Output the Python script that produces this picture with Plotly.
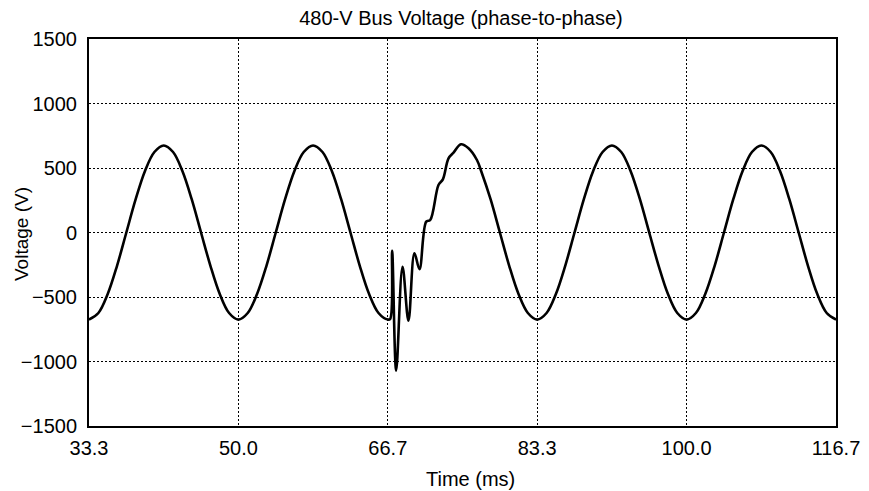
import plotly.graph_objects as go

# Time samples (ms) and phase-to-phase voltage (V)
time_pre = [33.33, 34.38, 35.42, 36.46, 37.50, 38.54, 39.58, 40.63, 41.67, 42.71, 43.75,
            44.79, 45.83, 46.88, 47.92, 48.96, 50.00, 51.04, 52.08, 53.13, 54.17, 55.21,
            56.25, 57.29, 58.33, 59.38, 60.42, 61.46, 62.50, 63.54, 64.58, 65.63, 66.67, 66.93]
volt_pre = [-675, -624, -477, -258, 0, 258, 477, 624, 675, 624, 477,
            258, 0, -258, -477, -624, -675, -624, -477, -258, 0, 258,
            477, 624, 675, 624, 477, 258, 0, -258, -477, -624, -675, -670]

time_fault = [67.15, 67.60, 68.31, 68.97, 69.64, 70.20, 70.95, 71.40, 72.32, 72.81,
              73.44, 74.00, 74.82, 75.67, 76.61]
volt_fault = [-141, -1071, -265, -684, -161, -285, 84, 97, 368, 412,
              575, 619, 684, 653, 562]

time_post = [77.08, 78.13, 79.17, 80.21, 81.25, 82.29, 83.33, 84.38, 85.42, 86.46, 87.50,
             88.54, 89.58, 90.63, 91.67, 92.71, 93.75, 94.79, 95.83, 96.88, 97.92, 98.96,
             100.00, 101.04, 102.08, 103.13, 104.17, 105.21, 106.25, 107.29, 108.33, 109.38,
             110.42, 111.46, 112.50, 113.54, 114.58, 115.63, 116.67]
volt_post = [477, 258, 0, -258, -477, -624, -675, -624, -477, -258, 0,
             258, 477, 624, 675, 624, 477, 258, 0, -258, -477, -624,
             -675, -624, -477, -258, 0, 258, 477, 624, 675, 624,
             477, 258, 0, -258, -477, -624, -675]

x_tickvals = [33.333, 50.0, 66.667, 83.333, 100.0, 116.667]
x_ticktext = ["33.3", "50.0", "66.7", "83.3", "100.0", "116.7"]
y_tickvals = [-1500, -1000, -500, 0, 500, 1000, 1500]
y_ticktext = ["\u22121500", "\u22121000", "\u2212500", "0", "500", "1000", "1500"]

t = time_pre + time_fault + time_post
v = volt_pre + volt_fault + volt_post

fig = go.Figure()
fig.add_trace(go.Scatter(x=t, y=v, mode="lines",
                         line=dict(color="black", width=2.6, shape="spline", smoothing=1.0),
                         showlegend=False))

font = "Liberation Sans, Arial, Helvetica, sans-serif"
FS = 20
W, H = 861, 483
L, R, T, B = 81, 33, 31, 65
PW, PH = W - L - R, H - T - B
fig.update_layout(
    width=W, height=H,
    margin=dict(l=L, r=R, t=T, b=B),
    paper_bgcolor="white", plot_bgcolor="white",
    font=dict(family=font, size=FS, color="black"),
    title=dict(text="480-V Bus Voltage (phase-to-phase)", x=(461 - 8) / W, xanchor="center",
               xref="container", yref="container",
               y=1 - 10 / H, yanchor="middle", font=dict(size=FS)),
)
fig.add_annotation(text="Time (ms)", xref="paper", yref="paper",
                   x=(470 - 8 - L) / PW, y=-(479 - 8 - (T + PH)) / PH,
                   xanchor="center", yanchor="middle", showarrow=False,
                   font=dict(size=FS))
fig.add_annotation(text="Voltage (V)", xref="paper", yref="paper",
                   x=(21 - 8 - L) / PW, y=((T + PH) - (234 - 8)) / PH,
                   xanchor="center", yanchor="middle", showarrow=False, textangle=-90,
                   font=dict(size=19))
grid = dict(showgrid=True, gridcolor="black", gridwidth=1.2, griddash="2px,2px",
            showline=True, linecolor="black", linewidth=2, mirror=True,
            zeroline=False, ticks="", ticklen=0, tickfont=dict(size=FS), automargin=False)
fig.update_xaxes(range=[33.333, 116.667], tickvals=x_tickvals, ticktext=x_ticktext,
                 ticklabelstandoff=3, **grid)
fig.update_yaxes(range=[-1500, 1500], tickvals=y_tickvals, ticktext=y_ticktext,
                 ticklabelstandoff=6, **grid)

fig.write_html("out.html")
